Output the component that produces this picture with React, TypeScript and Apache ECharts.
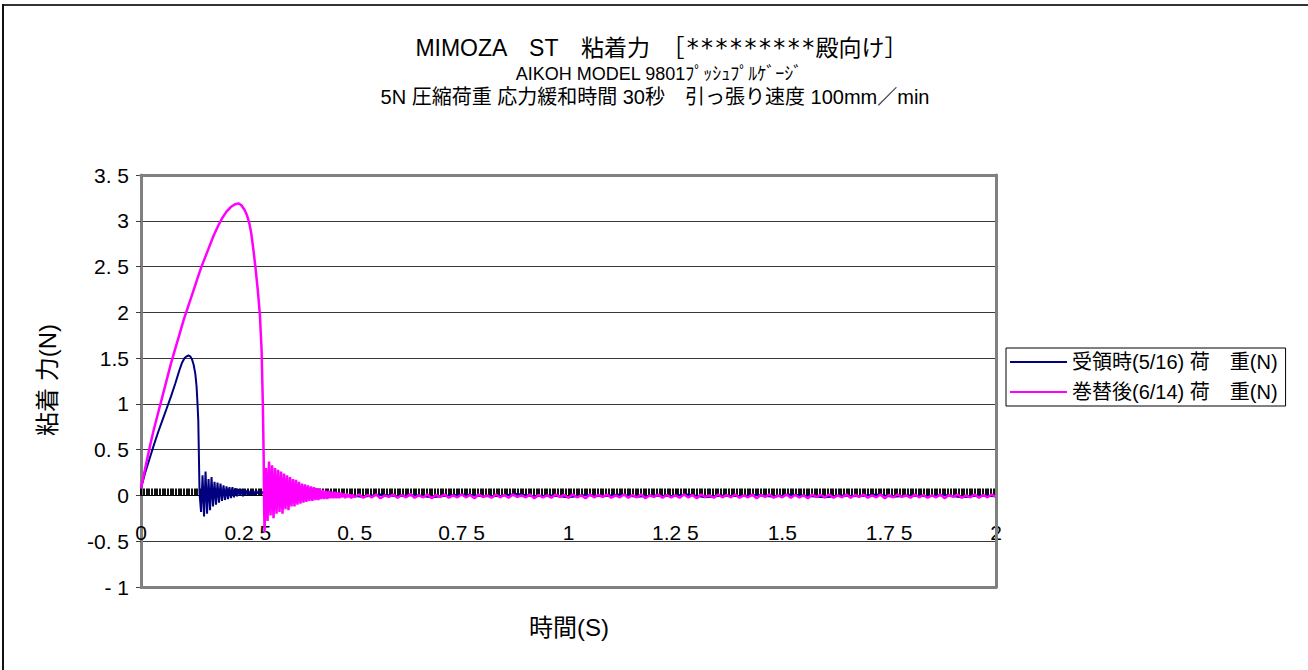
import React, { useEffect, useRef } from "react";
import * as echarts from "echarts";

const FONT = "'Liberation Sans', 'Noto Sans CJK JP', sans-serif";

const titleMainHead = "MIMOZA　ST　粘着力　［";
const titleMainStars = "*********";
const titleMainTail = "殿向け］";
const titleSub1 = "AIKOH MODEL 9801ﾌﾟｯｼｭﾌﾟﾙｹﾞｰｼﾞ";
const titleSub2 = "5N 圧縮荷重 応力緩和時間 30秒　引っ張り速度 100mm／min";
const yAxisName = "粘着 力(N)";
const xAxisName = "時間(S)";

const seriesNames = ["受領時(5/16) 荷　重(N)", "巻替後(6/14) 荷　重(N)"];

const xMin = 0;
const xMax = 2;
const yMin = -1;
const yMax = 3.5;
const xTickValues = [0, 0.25, 0.5, 0.75, 1, 1.25, 1.5, 1.75, 2];
const xTickLabels = ["0", "0.2 5", "0. 5", "0.7 5", "1", "1.2 5", "1.5", "1.7 5", "2"];
const yTickValues = [-1, -0.5, 0, 0.5, 1, 1.5, 2, 2.5, 3, 3.5];
const yTickLabels = ["- 1", "-0. 5", "0", "0. 5", "1", "1.5", "2", "2. 5", "3", "3. 5"];

// 受領時 : rise to peak and release  [time s, force N]
const blueRise: [number, number][] = [
  [0, 0.08], [0.01, 0.25], [0.02, 0.4], [0.03, 0.55], [0.04, 0.69], [0.05, 0.82],
  [0.06, 0.95], [0.07, 1.08], [0.08, 1.22], [0.09, 1.37], [0.096, 1.45], [0.102, 1.5],
  [0.107, 1.52], [0.111, 1.53], [0.115, 1.52], [0.119, 1.49], [0.123, 1.43], [0.127, 1.33],
  [0.13, 1.19], [0.132, 1.02], [0.134, 0.82], [0.135, 0.55], [0.136, 0.28], [0.137, 0.02],
];
// 受領時 : ringing after release (sampled every 0.0035 s from 0.1405 s)
const blueOscStart = 0.1405;
const blueOscStep = 0.0035;
const blueOsc = [
  -0.18, 0.22, -0.23, 0.26, -0.2, 0.18, -0.16, 0.2, -0.12, 0.15, -0.1, 0.14, -0.08, 0.13,
  -0.06, 0.11, -0.05, 0.1, -0.04, 0.09, -0.03, 0.09, -0.02, 0.08, -0.01, 0.07, 0.0, 0.07,
  -0.01, 0.06, 0.01, 0.06, 0.0, 0.05, 0.01, 0.05, 0.01, 0.05, 0.02, 0.04, 0.02, 0.04, 0.01, 0.04,
];
// 受領時 : residual noise (sampled every 0.04 s from 0.32 s)
const blueTailStart = 0.32;
const blueTailStep = 0.04;
const blueTail = [
  0.01, -0.01, 0.02, -0.005, 0.0, -0.015, 0.01, -0.01, 0.005, -0.02, 0.0, 0.01, -0.01, -0.005,
  0.015, -0.01, 0.0, -0.02, 0.005, -0.01, 0.01, -0.015, 0.0, -0.005, 0.01, -0.02, 0.0, -0.01,
  0.005, -0.015, 0.01, -0.005, -0.02, 0.0, -0.01, 0.01, -0.015, 0.0, -0.01, 0.005, -0.02, 0.0, -0.01,
];

// 巻替後 : rise to peak and release
const pinkRise: [number, number][] = [
  [0, 0.08], [0.01, 0.3], [0.02, 0.52], [0.03, 0.72], [0.04, 0.9], [0.05, 1.08], [0.06, 1.26],
  [0.07, 1.44], [0.08, 1.6], [0.09, 1.76], [0.1, 1.92], [0.11, 2.06], [0.12, 2.2], [0.13, 2.34],
  [0.14, 2.48], [0.15, 2.6], [0.16, 2.72], [0.17, 2.84], [0.18, 2.94], [0.19, 3.03], [0.2, 3.1],
  [0.21, 3.15], [0.22, 3.18], [0.228, 3.19], [0.235, 3.17], [0.242, 3.12], [0.248, 3.06],
  [0.253, 2.98], [0.258, 2.86], [0.263, 2.68], [0.268, 2.48], [0.273, 2.25], [0.278, 1.98],
  [0.282, 1.6], [0.285, 1.0], [0.287, 0.4], [0.288, -0.1], [0.289, -0.4],
];
// 巻替後 : ringing after release (sampled every 0.0035 s from 0.2925 s)
const pinkOscStart = 0.2925;
const pinkOscStep = 0.0035;
const pinkOsc = [
  0.3, -0.28, 0.37, -0.22, 0.33, -0.25, 0.3, -0.2, 0.28, -0.18, 0.26, -0.2, 0.24, -0.15, 0.22,
  -0.16, 0.2, -0.12, 0.18, -0.12, 0.17, -0.1, 0.15, -0.09, 0.13, -0.08, 0.12, -0.07, 0.11, -0.06,
  0.1, -0.06, 0.09, -0.05, 0.08, -0.05, 0.07, -0.04, 0.06, -0.04, 0.05, -0.04, 0.05, -0.03, 0.04,
  -0.03, 0.04, -0.03, 0.03, -0.03, 0.03, -0.02, 0.02, -0.03, 0.02, -0.02, 0.01, -0.03, 0.01, -0.02,
];
// 巻替後 : residual noise (sampled every 0.01 s from 0.5 s)
const pinkTailStart = 0.5;
const pinkTailStep = 0.01;
const pinkTail = [
  -0.02, 0.01, -0.025, 0.005, -0.02, 0.01, -0.03, 0.0, -0.015, 0.01, -0.025, 0.005, -0.02, 0.015, -0.025, 0.0, -0.02, 0.01, -0.03, 0.005,
  -0.015, 0.01, -0.025, 0.0, -0.02, 0.01, -0.02, 0.005, -0.03, 0.01, -0.015, 0.0, -0.025, 0.01, -0.02, 0.005, -0.025, 0.01, -0.015, 0.0,
  -0.02, 0.01, -0.03, 0.005, -0.02, 0.0, -0.025, 0.01, -0.015, 0.005, -0.025, 0.01, -0.02, 0.0, -0.03, 0.01, -0.02, 0.005, -0.015, 0.01,
  -0.025, 0.0, -0.02, 0.01, -0.025, 0.005, -0.02, 0.01, -0.03, 0.0, -0.015, 0.01, -0.025, 0.005, -0.02, 0.0, -0.025, 0.01, -0.02, 0.005,
  -0.03, 0.01, -0.015, 0.0, -0.025, 0.01, -0.02, 0.005, -0.02, 0.01, -0.025, 0.0, -0.02, 0.01, -0.03, 0.005, -0.015, 0.01, -0.025, 0.0,
  -0.02, 0.01, -0.025, 0.005, -0.02, 0.0, -0.03, 0.01, -0.015, 0.005, -0.02, 0.01, -0.025, 0.0, -0.02, 0.01, -0.025, 0.005, -0.015, 0.01,
  -0.025, 0.0, -0.02, 0.01, -0.03, 0.005, -0.02, 0.01, -0.015, 0.0, -0.025, 0.01, -0.02, 0.005, -0.025, 0.0, -0.02, 0.01, -0.03, 0.005,
  -0.015, 0.01, -0.025, 0.0, -0.02, 0.01, -0.025, 0.005, -0.02, 0.01, -0.015,
];

const sampled = (start: number, step: number, values: number[]): [number, number][] =>
  values.map((v, i) => [+(start + i * step).toFixed(4), v]);

const blueData = [
  ...blueRise,
  ...sampled(blueOscStart, blueOscStep, blueOsc),
  ...sampled(blueTailStart, blueTailStep, blueTail),
];
const pinkData = [
  ...pinkRise,
  ...sampled(pinkOscStart, pinkOscStep, pinkOsc),
  ...sampled(pinkTailStart, pinkTailStep, pinkTail),
];

const labelFor = (values: number[], labels: string[]) => (v: number) => {
  const i = values.findIndex((x) => Math.abs(x - v) < 1e-9);
  return i >= 0 ? labels[i] : "";
};

export default function App() {
  const ref = useRef<HTMLDivElement>(null);

  useEffect(() => {
    if (!ref.current) return;
    const chart = echarts.init(ref.current, undefined, { renderer: "svg" });
    const GRAY = "#808080";
    const gridH = 412;
    // x axis drawn on the y = 0 line
    const zeroOffset = -gridH * ((0 - yMin) / (yMax - yMin));
    const borderAxis = {
      min: xMin,
      max: xMax,
      z: 5,
      axisLine: { show: true, onZero: false, lineStyle: { color: GRAY, width: 3 } },
      axisTick: { show: false },
      axisLabel: { show: false },
      splitLine: { show: false },
    };
    chart.setOption({
      animation: false,
      backgroundColor: "#ffffff",
      textStyle: { fontFamily: FONT },
      grid: { left: 141, top: 175, width: 855, height: gridH, show: true, backgroundColor: "#ffffff", borderWidth: 0 },
      legend: {
        orient: "vertical",
        left: 1006,
        top: 348,
        data: seriesNames,
        icon: "rect",
        backgroundColor: "#ffffff",
        borderColor: "#000000",
        borderWidth: 1,
        borderRadius: 0,
        padding: [4, 8, 4, 4],
        itemGap: 10,
        itemWidth: 57,
        itemHeight: 2,
        textStyle: { fontSize: 20, lineHeight: 20, color: "#000", fontFamily: FONT },
      },
      xAxis: [
        {
          type: "value",
          min: xMin,
          max: xMax,
          interval: 0.25,
          position: "bottom",
          offset: zeroOffset,
          axisLine: { show: true, onZero: false, lineStyle: { color: "#000", width: 1 } },
          axisTick: { show: true, inside: true, length: 7, lineStyle: { color: "#000", width: 2 } },
          minorTick: { show: true, splitNumber: 40, length: 7, lineStyle: { color: "#111", width: 2 } },
          axisLabel: {
            margin: 27,
            fontSize: 21,
            color: "#000",
            fontFamily: FONT,
            formatter: labelFor(xTickValues, xTickLabels),
          },
          splitLine: { show: false },
        },
        { type: "value", position: "top", ...borderAxis },
        { type: "value", position: "bottom", ...borderAxis },
      ],
      yAxis: [
        {
          type: "value",
          min: yMin,
          max: yMax,
          interval: 0.5,
          axisLine: { show: true, onZero: false, lineStyle: { color: GRAY, width: 3 } },
          axisTick: { show: true, inside: false, length: 5, lineStyle: { color: "#404040", width: 1 } },
          axisLabel: {
            margin: 12,
            fontSize: 21,
            color: "#000",
            fontFamily: FONT,
            formatter: labelFor(yTickValues, yTickLabels),
          },
          splitLine: { show: true, lineStyle: { color: "#3a3a3a", width: 1 } },
        },
        {
          type: "value",
          position: "right",
          min: yMin,
          max: yMax,
          z: 5,
          axisLine: { show: true, onZero: false, lineStyle: { color: GRAY, width: 3 } },
          axisTick: { show: false },
          axisLabel: { show: false },
          splitLine: { show: false },
        },
      ],
      series: [
        {
          name: seriesNames[0],
          type: "line",
          data: blueData,
          symbol: "none",
          lineStyle: { color: "#000080", width: 2 },
          itemStyle: { color: "#000080" },
          z: 3,
        },
        {
          name: seriesNames[1],
          type: "line",
          data: pinkData,
          symbol: "none",
          lineStyle: { color: "#ff00ff", width: 2.5 },
          itemStyle: { color: "#ff00ff" },
          z: 4,
        },
      ],
      graphic: [
        { type: "line", shape: { x1: 2, y1: 5, x2: 1310, y2: 5 }, style: { stroke: "#333", lineWidth: 2 } },
        { type: "line", shape: { x1: 3, y1: 4, x2: 3, y2: 672 }, style: { stroke: "#111", lineWidth: 2 } },
        {
          type: "text",
          x: 661,
          y: 48,
          style: {
            text: titleMainHead + "{s|" + titleMainStars + "}" + titleMainTail,
            fontSize: 23,
            fontFamily: FONT,
            fill: "#000",
            align: "center",
            verticalAlign: "middle",
            rich: { s: { fontFamily: "'DejaVu Sans Mono', monospace", fontSize: 24, fill: "#000" } },
          },
        },
        {
          type: "text",
          x: 659,
          y: 74,
          style: { text: titleSub1, fontSize: 18, fontFamily: FONT, fill: "#000", align: "center", verticalAlign: "middle" },
        },
        {
          type: "text",
          x: 655,
          y: 97,
          style: { text: titleSub2, fontSize: 20, fontFamily: FONT, fill: "#000", align: "center", verticalAlign: "middle" },
        },
        {
          type: "text",
          x: 47,
          y: 380,
          rotation: Math.PI / 2,
          style: { text: yAxisName, fontSize: 24, fontFamily: FONT, fill: "#000", align: "center", verticalAlign: "middle" },
        },
        {
          type: "text",
          x: 569,
          y: 627,
          style: { text: xAxisName, fontSize: 24, fontFamily: FONT, fill: "#000", align: "center", verticalAlign: "middle" },
        },
      ],
    });
    return () => chart.dispose();
  }, []);

  return <div ref={ref} style={{ position: "fixed", left: 0, top: 0, width: 1308, height: 670 }} />;
}
